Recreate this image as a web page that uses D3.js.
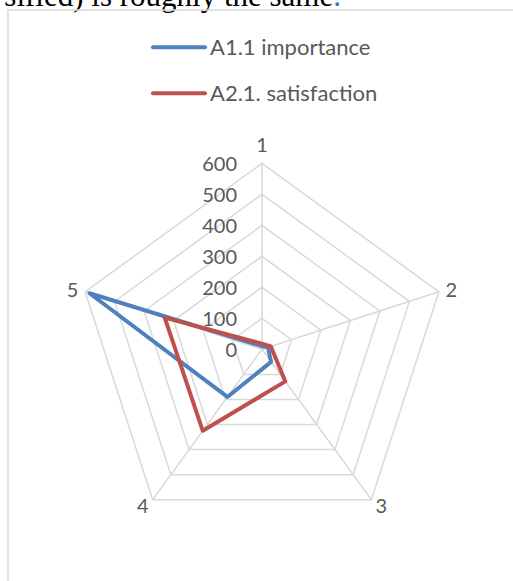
<!DOCTYPE html>
<html>
<head>
<meta charset="utf-8">
<script src="https://cdn.jsdelivr.net/npm/d3@7"></script>
<style>
    body { margin: 0; background: #fff; }
    svg { display: block; }
</style>
</head>
<body>
<svg id="chart" width="513" height="581"></svg>
<script>
// axis categories and the two series
const categories = ['1', '2', '3', '4', '5'];
const importance = [10, 20, 50, 190, 585];
const satisfaction = [18, 30, 128, 325, 330];
const ticks = [0, 100, 200, 300, 400, 500, 600];

const seriesNames = ['A1.1 importance', 'A2.1. satisfaction'];
const seriesColors = ['#4f81bd', '#c0504d'];

const svg = d3.select('#chart');
const cx = 262, cy = 349.3;
const font = 'Lato, "Open Sans", sans-serif';
const grey = '#595959';

// leftover sentence from the document above the chart
const title = svg.append('text')
    .attr('x', 341)
    .attr('y', 6)
    .attr('text-anchor', 'end')
    .style('font-family', '"Liberation Serif", "Times New Roman", serif')
    .style('font-size', '31px')
    .attr('fill', '#000');
title.append('tspan').text('sified) is roughly the same');
title.append('tspan').attr('fill', '#2e75b6').text('.');

// chart frame (only left + top edges show)
svg.append('rect')
    .attr('x', 8).attr('y', 10)
    .attr('width', 540).attr('height', 620)
    .attr('fill', 'none')
    .attr('stroke', '#d9d9d9')
    .attr('stroke-width', 1.5);

const r = d3.scaleLinear().domain([0, 600]).range([0, 186]);
const angle = d3.scalePoint().domain(categories).range([0, 2 * Math.PI * 4 / 5]);

let pt = function (cat, value) {
    const a = angle(cat) - Math.PI / 2;
    return [cx + r(value) * Math.cos(a), cy + r(value) * Math.sin(a)];
}

const g = svg.append('g');

// rings
g.selectAll('.ring')
    .data(ticks.slice(1))
    .enter().append('path')
    .attr('class', 'ring')
    .attr('d', t => d3.line()(categories.map(c => pt(c, t))) + 'Z')
    .attr('fill', 'none')
    .attr('stroke', '#d9d9d9')
    .attr('stroke-width', 1.5);

// spokes
g.selectAll('.spoke')
    .data(categories)
    .enter().append('line')
    .attr('class', 'spoke')
    .attr('x1', cx).attr('y1', cy)
    .attr('x2', c => pt(c, 600)[0])
    .attr('y2', c => pt(c, 600)[1])
    .attr('stroke', '#d9d9d9')
    .attr('stroke-width', 1.5);

// value labels
g.selectAll('.tick')
    .data(ticks)
    .enter().append('text')
    .attr('x', 237)
    .attr('y', t => cy - r(t))
    .attr('dy', '0.36em')
    .attr('text-anchor', 'end')
    .style('font-family', font)
    .style('font-size', '20px')
    .attr('fill', grey)
    .text(t => t);

// category labels
g.selectAll('.cat')
    .data(categories)
    .enter().append('text')
    .each(function (c) {
        const a = angle(c) - Math.PI / 2;
        const rr = r(600) + 7;
        const x = cx + rr * Math.cos(a), y = cy + rr * Math.sin(a);
        const cos = Math.cos(a);
        d3.select(this)
            .attr('x', x)
            .attr('y', c === '1' ? y - 12 : y)
            .attr('dy', '0.36em')
            .attr('text-anchor', cos > 0.1 ? 'start' : (cos < -0.1 ? 'end' : 'middle'));
    })
    .style('font-family', font)
    .style('font-size', '20px')
    .attr('fill', grey)
    .text(c => c);

// series
[importance, satisfaction].forEach((vals, i) => {
    g.append('path')
        .attr('d', d3.line()(categories.map((c, k) => pt(c, vals[k]))) + 'Z')
        .attr('fill', 'none')
        .attr('stroke', seriesColors[i])
        .attr('stroke-width', 4)
        .attr('stroke-linejoin', 'round');
});

// legend
const legend = svg.selectAll('.legend')
    .data(seriesNames)
    .enter().append('g')
    .attr('transform', (d, i) => 'translate(0,' + (47.3 + i * 46) + ')');
legend.append('line')
    .attr('x1', 153).attr('x2', 205)
    .attr('stroke', (d, i) => seriesColors[i])
    .attr('stroke-width', 4)
    .attr('stroke-linecap', 'round');
legend.append('text')
    .attr('x', 210)
    .attr('dy', '0.36em')
    .style('font-family', font)
    .style('font-size', '22px')
    .attr('fill', grey)
    .text(d => d);
</script>
</body>
</html>
